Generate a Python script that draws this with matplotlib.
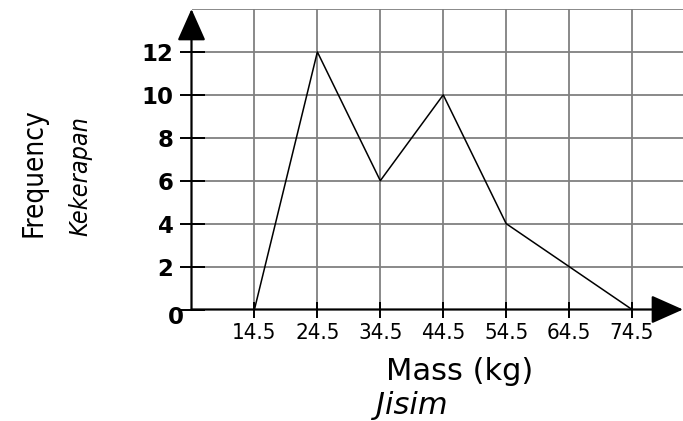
import matplotlib
matplotlib.use("Agg")
import matplotlib.pyplot as plt

# frequency polygon: class boundaries vs frequency
mass = [14.5, 24.5, 34.5, 44.5, 54.5, 64.5, 74.5]
freq = [0, 12, 6, 10, 4, 2, 0]
x_labels = ["14.5", "24.5", "34.5", "44.5", "54.5", "64.5", "74.5"]
y_ticks = [0, 2, 4, 6, 8, 10, 12]

W, H = 683, 421
NARROW = ["DejaVu Sans Condensed", "DejaVu Sans"]
MAIN = ["DejaVu Sans"]

fig = plt.figure(figsize=(W / 100, H / 100), dpi=100)
ax = fig.add_axes([191.5 / W, 1 - 309.5 / H, 1 - 191.5 / W, (309.5 - 9) / H])

ax.set_xlim(4.5, 82.6)
ax.set_ylim(0, 14)

for s in ax.spines.values():
    s.set_visible(False)

# grid
grid_kw = dict(color="#808080", lw=1.3, zorder=1)
for x in mass:
    ax.axvline(x, **grid_kw)
for y in y_ticks[1:] + [14]:
    ax.axhline(y, **grid_kw)

# axes with arrow heads
arrow_kw = dict(arrowstyle="-|>,head_length=0.9,head_width=0.4", lw=1.6,
                color="black", shrinkA=0, shrinkB=0, mutation_scale=22)
ax.annotate("", xy=(4.5, 14), xytext=(4.5, 0), arrowprops=arrow_kw,
            annotation_clip=False, zorder=5)
ax.annotate("", xy=(82.6, 0), xytext=(4.5, 0), arrowprops=arrow_kw,
            annotation_clip=False, zorder=5)

ax.plot(mass, freq, color="black", lw=1.1, zorder=4, clip_on=False)

ax.set_xticks(mass)
ax.set_xticklabels(x_labels, family=NARROW, fontstretch="condensed",
                   fontsize=16)
ax.set_yticks(y_ticks)
ax.set_yticklabels([""] + [str(v) for v in y_ticks[1:]], family=MAIN,
                   fontsize=16.5, fontweight="bold")
ax.tick_params(axis="x", direction="inout", length=12, width=1.4, pad=4)
ax.tick_params(axis="y", direction="inout", length=18, width=1.4, pad=4)

fig.text(176 / W, 1 - 317 / H, "0", family=MAIN, fontsize=16.5,
         fontweight="bold", ha="center", va="center")

fig.text(459.5 / W, 1 - 371.7 / H, "Mass (kg)", family=MAIN, fontsize=22,
         ha="center", va="center")
fig.text(412 / W, 1 - 405 / H, "Jisim", family=MAIN, fontsize=22,
         style="italic", ha="center", va="center")
fig.text(33 / W, 1 - 172.5 / H, "Frequency", family=NARROW,
         fontstretch="condensed", fontsize=20, rotation=90,
         ha="center", va="center")
fig.text(80 / W, 1 - 176 / H, "Kekerapan", family=NARROW,
         fontstretch="condensed", fontsize=18, style="italic", rotation=90,
         ha="center", va="center")

fig.savefig("out.png", dpi=100)
